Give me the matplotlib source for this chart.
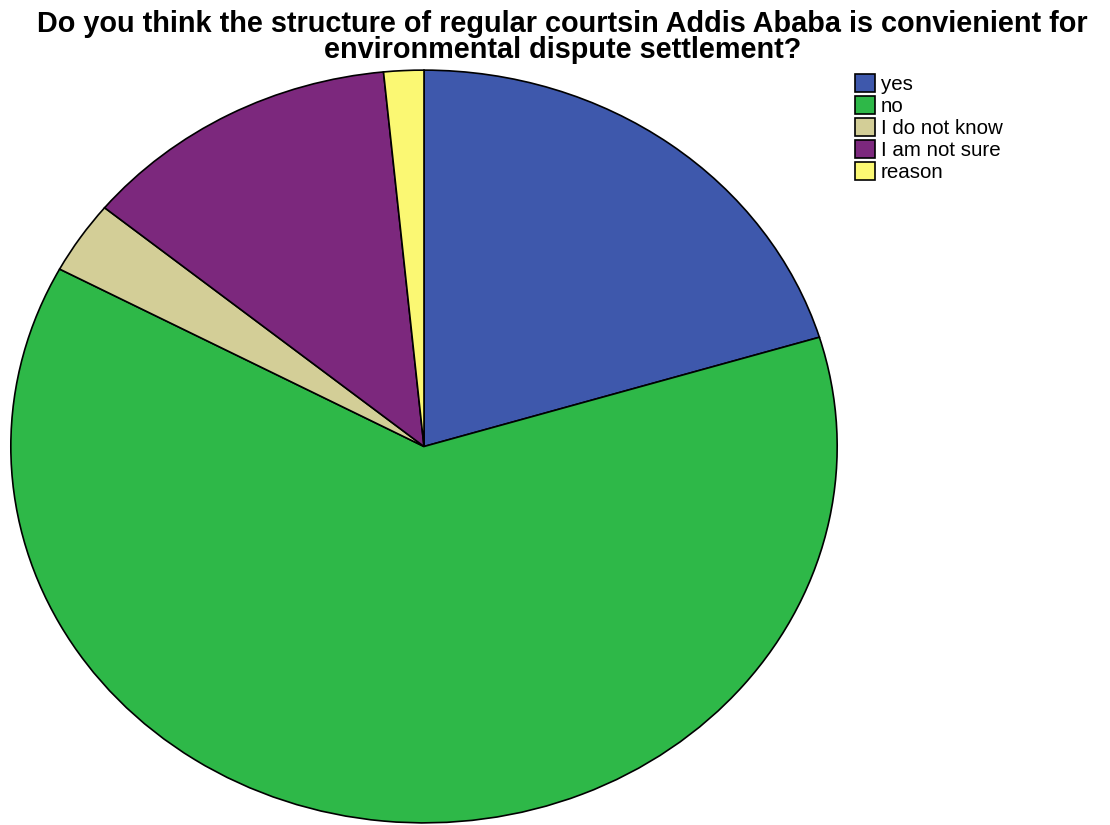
import matplotlib
matplotlib.use('Agg')
import matplotlib.pyplot as plt

plt.rcParams['font.family'] = ['Liberation Sans', 'DejaVu Sans']

# answer categories and counts
categories = ['yes', 'no', 'I do not know', 'I am not sure', 'reason']
counts = [13, 40, 2, 8, 1]
colors = ['#3E58AC', '#2EB848', '#D3CE97', '#7C287D', '#FBF873']

title = ('Do you think the structure of regular courtsin Addis Ababa is convienient for\n'
         'environmental dispute settlement?')

fig = plt.figure(figsize=(11.1, 8.25), dpi=100)
ax = fig.add_axes([10 / 1110, 1 / 825, 828 / 1110, 755 / 825])

wedges, _ = ax.pie(counts, colors=colors, startangle=90, counterclock=False,
                   wedgeprops=dict(edgecolor='black', linewidth=1.2))
# SPSS stretches the pie into an ellipse
ax.set_aspect('auto')
ax.set_xlim(-1.002, 1.002)
ax.set_ylim(-1.003, 1.003)

fig.text(0.507, 0.988, title, ha='center', va='top', fontsize=20.8,
         fontweight='bold', linespacing=0.9)

fig.legend(wedges, categories, loc='upper left', bbox_to_anchor=(855 / 1110, 1 - 74 / 825),
           fontsize=14.8, frameon=False, handlelength=0.95, handleheight=0.95,
           handletextpad=0.3, labelspacing=0.1, borderaxespad=0, borderpad=0)

fig.savefig('out.png', dpi=100)
